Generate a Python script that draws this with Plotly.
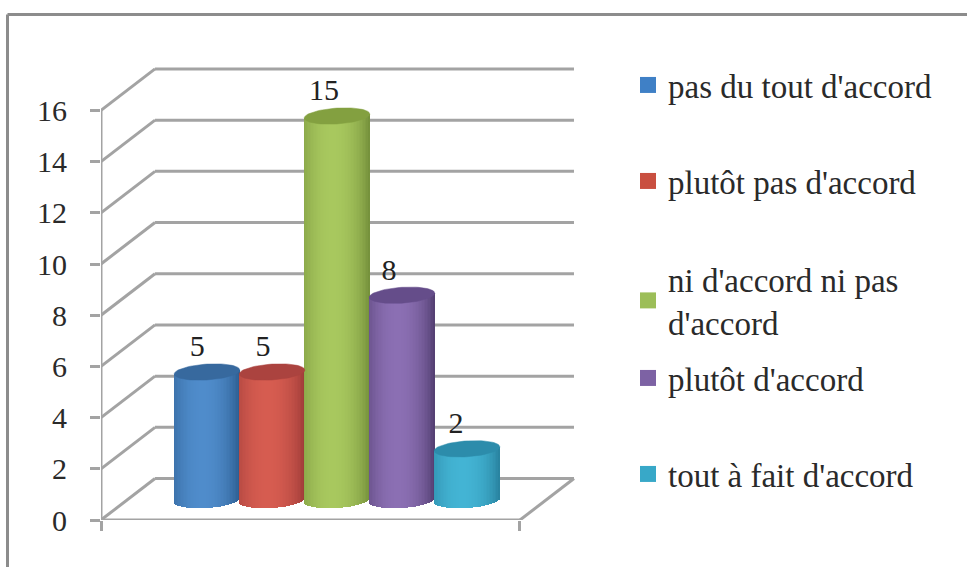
import numpy as np
import plotly.graph_objects as go

# ---- data ----
categories = ["pas du tout d'accord", "plutôt pas d'accord", "ni d'accord ni pas<br>d'accord",
              "plutôt d'accord", "tout à fait d'accord"]
values = [5, 5, 15, 8, 2]
y_ticks = [0, 2, 4, 6, 8, 10, 12, 14, 16]

# ---- styles ----
edge_colors = ["#2b5b8e", "#9c3a38", "#728d39", "#503c6e", "#27809d"]
mid_colors = ["#4f8ccb", "#d65c50", "#a8c85e", "#8b6fb3", "#43b4d4"]
top_colors = ["#37699e", "#ab433f", "#83a040", "#654d8a", "#2c8cab"]
swatch_colors = ["#3f80c6", "#c94f40", "#9cbe58", "#7d62a4", "#38a8c8"]
legend_y_px = [81, 177, 275, 374, 470]
label_shift = [-0.15, -0.14, -0.2, -0.2, -0.17]
GREY = "#a3a3a3"
FONT = "Liberation Serif"

# ---- plot area in pixels (drawn wider than the axes so the 3D look is not clipped) ----
L, R, T, B = 101, 600, 40, 520
PX_PER_X, PX_PER_Y, X0_PX = 65.0, 25.6, 207.0
X_LO = (L - X0_PX) / PX_PER_X
X_HI_VIEW = (R - X0_PX) / PX_PER_X
Y_HI_VIEW = (B - T) / PX_PER_Y
X_END = 4.815
DEPTH_X, DEPTH_Y = 0.831, 1.62
BASE = 0.78
HALF = 0.505
SAG = 0.31
TILT = 0.08
LABEL_GAP = 0.9
STRIPS = 44


def px2paper_x(p):
    return (p - L) / (R - L)


def px2paper_y(p):
    return (B - p) / (B - T)


def hex2rgb(h):
    return np.array([int(h[i:i + 2], 16) for i in (1, 3, 5)], float)


fig = go.Figure()
shapes = []


def grey_line(x0, y0, x1, y1):
    shapes.append(dict(type="line", xref="x", yref="y", x0=x0, y0=y0, x1=x1, y1=y1,
                       layer="below", line=dict(color=GREY, width=3)))


# wall and floor lines, front axes
for t in y_ticks:
    grey_line(X_LO, t, X_LO + DEPTH_X, t + DEPTH_Y)
    grey_line(X_LO + DEPTH_X, t + DEPTH_Y, X_END + DEPTH_X, t + DEPTH_Y)
grey_line(X_END, 0, X_END + DEPTH_X, DEPTH_Y)
grey_line(X_LO, 0, X_LO, y_ticks[-1])
grey_line(X_LO, 0, X_END, 0)

# cylinders
for i, (name, v) in enumerate(zip(categories, values)):
    ts = np.linspace(-1, 1, STRIPS, endpoint=False) + 1 / STRIPS
    c0, c1 = hex2rgb(edge_colors[i]), hex2rgb(mid_colors[i])
    shade = np.sqrt(np.clip(1 - ((ts + 0.12) / 1.12) ** 2, 0, 1)) ** 1.6
    cols = [f"rgb({a:.0f},{b:.0f},{c:.0f})" for a, b, c in (c0 + (c1 - c0) * s for s in shade)]
    sag = SAG * np.sqrt(1 - ts ** 2)
    tilt = TILT * ts
    bases = BASE - sag + tilt
    tops = BASE + v + tilt
    fig.add_trace(go.Bar(x=i + ts * HALF, y=tops - bases, base=bases,
                         width=[HALF * 2 / STRIPS * 1.15] * STRIPS,
                         marker=dict(color=cols, line=dict(width=0)),
                         showlegend=False, hoverinfo="skip", cliponaxis=False))
    th = np.linspace(0, 2 * np.pi, 73)
    fig.add_trace(go.Scatter(x=i + HALF * np.cos(th),
                             y=BASE + v + SAG * np.sin(th) + TILT * np.cos(th),
                             mode="lines", fill="toself", fillcolor=top_colors[i],
                             line=dict(color=top_colors[i], width=0.5),
                             showlegend=False, hoverinfo="skip", cliponaxis=False))

# value labels
fig.add_trace(go.Scatter(x=[i + s for i, s in enumerate(label_shift)],
                         y=[v + BASE + LABEL_GAP for v in values],
                         mode="text", text=[str(v) for v in values], textposition="middle center",
                         textfont=dict(family=FONT, size=30, color="#222222"),
                         showlegend=False, hoverinfo="skip", cliponaxis=False))

# legend entries
legend_layout = {}
for i, name in enumerate(categories):
    key = "legend" if i == 0 else f"legend{i + 1}"
    fig.add_trace(go.Scatter(x=[None], y=[None], mode="markers", name=name, legend=key,
                             marker=dict(symbol="square", size=16, color=swatch_colors[i])))
    legend_layout[key] = dict(x=px2paper_x(628), xanchor="left",
                              y=px2paper_y(legend_y_px[i] - 24), yanchor="top",
                              bgcolor="rgba(0,0,0,0)", borderwidth=0, itemwidth=30,
                              font=dict(family=FONT, size=33, color="#2a2a2a"))

shapes += [dict(type="line", xref="paper", yref="paper", x0=px2paper_x(7.5), x1=px2paper_x(7.5),
                y0=px2paper_y(14.5), y1=px2paper_y(567), line=dict(color="#8c8c8c", width=3)),
           dict(type="line", xref="paper", yref="paper", x0=px2paper_x(7.5), x1=px2paper_x(967),
                y0=px2paper_y(14.5), y1=px2paper_y(14.5), line=dict(color="#8c8c8c", width=3))]

fig.update_layout(
    width=967, height=567, margin=dict(l=L, r=967 - R, t=T, b=567 - B),
    paper_bgcolor="white", plot_bgcolor="white", barmode="overlay", bargap=0,
    autosize=False,
    xaxis=dict(range=[X_LO, X_HI_VIEW], showgrid=False, zeroline=False, showline=False,
               tickvals=[X_LO, X_END], ticktext=["", ""],
               ticks="outside", ticklen=10, tickwidth=3, tickcolor=GREY),
    yaxis=dict(range=[0, Y_HI_VIEW], tickvals=y_ticks, showgrid=False, zeroline=False,
               showline=False, ticks="outside", ticklen=10, tickwidth=3,
               tickcolor=GREY, ticklabelstandoff=17,
               tickfont=dict(family=FONT, size=30, color="#2a2a2a")),
    shapes=shapes,
    **legend_layout,
)

fig.write_html("out.html", config={"displayModeBar": False},
               post_script="document.body.style.margin='0';")
